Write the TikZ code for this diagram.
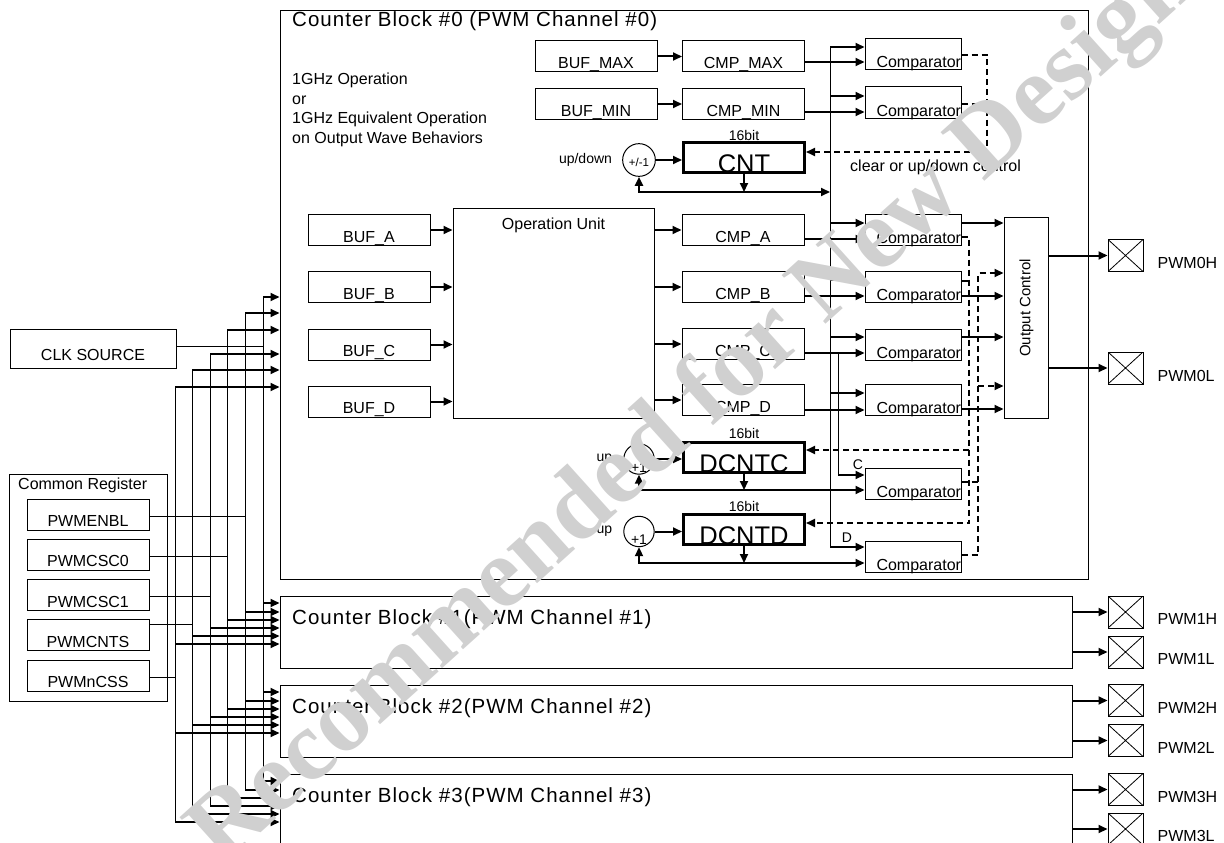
\documentclass[tikz,border=0pt]{standalone}
\usepackage{fontspec}
\setmainfont{Liberation Sans}
\newfontfamily\titlefont[LetterSpace=5]{Liberation Sans}
\newfontfamily\markfont{Liberation Serif}
\usetikzlibrary{arrows.meta,positioning}
\definecolor{markcol}{RGB}{208,208,208}

\begin{document}
\begin{tikzpicture}[x=1pt,y=-1pt,>={Triangle[length=9pt,width=8pt]},
  txt/.style={inner sep=0pt,font=\fontsize{16}{19.5}\selectfont},
  sml/.style={inner sep=0pt,font=\fontsize{14}{16}\selectfont},
  box/.style={draw,line width=1pt,minimum width=122pt,minimum height=31pt,
    text height=24pt,text depth=0pt,txt},
  cmpbox/.style={box,minimum width=96pt,text width=96pt,text height=27pt,align=right},
  cntbox/.style={draw,line width=3pt,inner sep=0pt,minimum width=121pt,minimum height=30pt,
    text height=30pt,text depth=0pt,font=\fontsize{25.5}{28}\selectfont},
  adder/.style={draw,circle,line width=1pt,text depth=0pt},
  blk/.style={draw,line width=1pt,inner sep=0pt,minimum width=792pt,minimum height=72pt},
  title/.style={anchor=base west,inner sep=0pt,font=\titlefont\fontsize{20.5}{24}\selectfont},
  pad/.style={draw,line width=1pt,inner sep=0pt,minimum width=35pt,minimum height=32pt,
    path picture={\draw[line width=.8pt]
      (path picture bounding box.north west) -- (path picture bounding box.south east)
      (path picture bounding box.south west) -- (path picture bounding box.north east);}},
  wire/.style={line width=1pt},
  bus/.style={line width=2pt,->},
  ctl/.style={line width=2pt,dash pattern=on 6pt off 4pt},
]
\clip (0,0) rectangle (1224,843);

% counter blocks
\node[blk,minimum width=808pt,minimum height=568pt] (cb0) at (684,295) {};
\node[title] (cbt0) at (292,27) {Counter Block \#0 (PWM Channel \#0)};
\foreach \b/\y in {1/632,2/721,3/810}{
  \node[blk] (cb\b) at (676,\y) {};
  \node[title] (cbt\b) at (292,\y-8) {Counter Block \#\b(PWM Channel \#\b)};
}

% clock source, common registers
\node[box,minimum width=166pt,minimum height=39pt,text height=23pt] (clk) at (93,348.5) {CLK SOURCE};
\node[draw,line width=1pt,minimum width=158pt,minimum height=227pt] (creg) at (88,587.5) {};
\node[txt,anchor=base west] (cregt) at (18,489) {Common Register};
\foreach \r [count=\i from 0] in {PWMENBL,PWMCSC0,PWMCSC1,PWMCNTS,PWMnCSS}
  \node[box] (\r) at (88,514.5+40.25*\i) {\r};
\foreach \s/\x/\y in {clk/263/346, PWMENBL/245/516, PWMCSC0/227/556,
    PWMCSC1/210/596, PWMCNTS/192/624, PWMnCSS/175/677}
  \draw[wire] (\s.east |- 0,\y) -- (\x,\y);

% bus: x, arrow into block 0, offset below top of blocks 1-3
\foreach \x/\y/\k in {263/297/7, 245/313/16, 227/330/24, 210/354/32, 192/370/40, 175/387/48}{
  \draw[wire] (\x,\y) -- (\x,774+\k);
  \draw[bus] (\x,\y) -- (cb0.west |- 0,\y);
  \foreach \b/\t in {1/596,2/685,3/774}{
    \pgfmathtruncatemacro\yy{\t+\k}
    \draw[bus] (\x,\yy) -- (cb\b.west |- 0,\yy);
  }
}

\node[txt,anchor=north west,align=left] (ghz) at (292,73)
  {1GHz Operation\\or\\1GHz Equivalent Operation\\on Output Wave Behaviors};

% max / min registers
\node[box] (bufMax) at (596,56.5) {BUF\_MAX};
\node[box] (bufMin) at (596,104) {BUF\_MIN};
\node[box] (cmpMax) at (743.5,56.5) {CMP\_MAX};
\node[box] (cmpMin) at (743.5,104) {CMP\_MIN};
\draw[bus] (bufMax) -- (cmpMax);
\draw[bus] (bufMin) -- (cmpMin);

% comparators
\foreach \n/\y in {cpMax/54.5, cpMin/102.5, cpA/230, cpB/287, cpC/344.5, cpD/399.5, cpdC/483.5, cpdD/556.5}
  \node[cmpbox] (\n) at (913,\y) {Comparator\hspace*{-1pt}};

% main counter
\node[cntbox] (cnt) at (744,157.5) {CNT};
\node[sml,anchor=base] (bit0) at ([yshift=1pt]cnt.north) {16bit};
\node[adder,minimum size=24pt,text height=12pt,font=\fontsize{11.5}{13}\selectfont] (inc0) at (639,160) {+/-1};
\node[sml,anchor=east] (updn) at ([xshift=-10pt]inc0.west) {up/down};
\draw[bus] (inc0) -- (cnt.west |- inc0);
\draw[bus] (cnt.south) -- (cnt.south |- 0,192);
\draw[bus,<->] (inc0.south) -- (inc0.south |- 0,192) -- (830,192);

% operation unit
\node[draw,line width=1pt,minimum width=201pt,minimum height=210pt] (ou) at (553.5,313) {};
\node[txt,anchor=base] (out) at (553.5,229) {Operation Unit};
\foreach \l/\y in {A/230,B/287,C/344.5,D/401.5}{
  \node[box] (buf\l) at (369,\y) {BUF\_\l};
  \draw[bus] (buf\l) -- (buf\l -| ou.west);
}
\foreach \l/\y in {A/230,B/287,C/344,D/400}{
  \node[box] (cmp\l) at (743,\y) {CMP\_\l};
  \draw[bus] (ou.east |- cmp\l) -- (cmp\l);
}

% counter value to the comparators
\draw[wire] (830,47) -- (830,547);
\foreach \n/\y in {cpMax/47, cpMin/96, cpA/223, cpB/280, cpC/337, cpD/393, cpdD/547}
  \draw[bus] (830,\y) -- (\n.west |- 0,\y);
\foreach \s/\n/\y in {cmpMax/cpMax/62, cmpMin/cpMin/112, cmpA/cpA/239, cmpB/cpB/296,
    cmpC/cpC/353, cmpD/cpD/410}
  \draw[bus] (\s.east |- 0,\y) -- (\n.west |- 0,\y);
\draw[wire] (838,353) -- (838,475);
\draw[bus] (838,475) -- (cpdC.west |- 0,475);
\node[sml] (lblC) at (858,465) {C};
\node[sml] (lblD) at (847,538) {D};

% dead time counters
\foreach \l/\y/\yf in {C/457/490, D/529.5/563}{
  \node[cntbox] (dcnt\l) at (744,\y) {DCNT\l};
  \node[sml,anchor=base] (bit\l) at ([yshift=2pt]dcnt\l.north) {16bit};
  \node[adder,minimum size=30pt,text height=26pt,sml] (inc\l) at (639,\y+2) {+1};
  \node[sml,anchor=east] (up\l) at ([xshift=-11pt]inc\l.west) {up};
  \draw[bus] (inc\l) -- (dcnt\l.west |- inc\l);
  \draw[bus] (dcnt\l.south) -- (dcnt\l.south |- 0,\yf);
  \draw[bus,<->] (inc\l.south) -- (inc\l.south |- 0,\yf) -- (cpd\l.west |- 0,\yf);
}

% clear or up/down control
\draw[ctl,->] (cpMax.east |- 0,55) -| (987,152) -- (cnt.east |- 0,152);
\draw[ctl] (cpMin.east |- 0,104) -- (987,104);
\node[txt,anchor=base west] (clrlbl) at (850,171) {clear or up/down control};
\draw[ctl,->] (cpA.east |- 0,237) -| (969,523) -- (dcntD.east |- 0,523);
\draw[ctl,->] (969,450) -- (dcntC.east |- 0,450);
\draw[ctl] (cpB.east |- 0,281) -- (969,281);

% output control
\node[draw,line width=1pt,minimum width=44pt,minimum height=201pt] (oc) at (1026,317.5) {};
\node[rotate=90,inner sep=0pt,font=\fontsize{15}{18}\selectfont] (oct) at (1026.5,308) {Output Control};
\foreach \n/\y in {cpA/223, cpB/296, cpC/337, cpD/409}
  \draw[bus] (\n.east |- 0,\y) -- (oc.west |- 0,\y);
\draw[ctl,->] (cpdD.east |- 0,555) -| (978,273) -- (oc.west |- 0,273);
\draw[ctl,->] (978,386) -- (oc.west |- 0,386);
\draw[ctl] (cpdC.east |- 0,482) -- (978,482);

% output pins
\node[pad] (pwm0H) at (1125.5,255.5) {};
\node[pad] (pwm0L) at (1125.5,368) {};
\draw[bus] (oc.east |- pwm0H) -- (pwm0H);
\draw[bus] (oc.east |- pwm0L) -- (pwm0L);
\node[txt,right=14pt of pwm0H,yshift=-7.5pt] (lbl0H) {PWM0H};
\node[txt,right=14pt of pwm0L,yshift=-7.5pt] (lbl0L) {PWM0L};
\foreach \b/\yh/\yl in {1/612/652, 2/700.5/740.5, 3/789.5/829}{
  \node[pad] (pwm\b H) at (1125.5,\yh) {};
  \node[pad] (pwm\b L) at (1125.5,\yl) {};
  \draw[bus] (cb\b.east |- pwm\b H) -- (pwm\b H);
  \draw[bus] (cb\b.east |- pwm\b L) -- (pwm\b L);
  \node[txt,right=14pt of pwm\b H,yshift=-7pt] (lbl\b H) {PWM\b H};
  \node[txt,right=14pt of pwm\b L,yshift=-7pt] (lbl\b L) {PWM\b L};
}

% watermark
\node[anchor=base west,rotate=42,inner sep=0pt,text=markcol,font=\markfont\bfseries\fontsize{100}{104}\selectfont]
  (mark) at (222,868) {Recommended for New Design};
\end{tikzpicture}
\end{document}
